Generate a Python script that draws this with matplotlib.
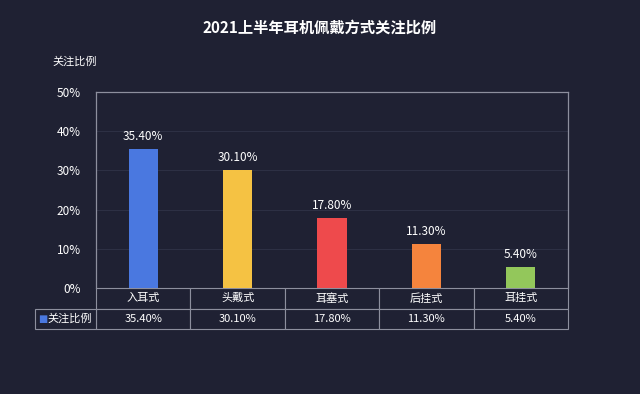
import matplotlib
matplotlib.use("Agg")
from matplotlib import pyplot as plt
from matplotlib.patches import Rectangle

plt.rcParams['font.family'] = ['Noto Sans CJK SC', 'DejaVu Sans']

categories = ["入耳式", "头戴式", "耳塞式", "后挂式", "耳挂式"]
values = [35.4, 30.1, 17.8, 11.3, 5.4]
bar_colors = ["#4a78e0", "#f5c243", "#ee4a4c", "#f5843d", "#93c75b"]
series_name = "关注比例"
y_ticks = [0, 10, 20, 30, 40, 50]

bg = "#1f2133"
edge = "#8d8f9e"
W, H = 640, 394

fig = plt.figure(figsize=(W / 100, H / 100), dpi=100, facecolor=bg)
ax = fig.add_axes([96 / W, (H - 288) / H, 472 / W, 196 / H])
ax.set_facecolor(bg)

x = list(range(len(categories)))
ax.bar(x, values, width=0.31, color=bar_colors, zorder=3)
for xi, v in zip(x, values):
    ax.text(xi, v + 1.5, f"{v:.2f}%", ha="center", va="bottom", color="white", fontsize=8.5)

ax.set_xlim(-0.5, len(categories) - 0.5)
ax.set_ylim(0, 50)
ax.set_yticks(y_ticks)
ax.set_yticklabels([f"{t}%" for t in y_ticks], color="white", fontsize=8.5)
ax.tick_params(axis="y", length=0, pad=11)
ax.set_xticks([])
ax.grid(axis="y", color="#2d3044", linewidth=0.8, zorder=0)
for side in ["top", "right", "left"]:
    ax.spines[side].set_color(edge)
    ax.spines[side].set_linewidth(0.9)
ax.spines["bottom"].set_visible(False)

# data table under the bars
row_h = 20.5 / 196
tbl = ax.table(cellText=[[f"{v:.2f}%" for v in values]], colLabels=categories,
               cellLoc="center", bbox=[0, -2 * row_h, 1, 2 * row_h])
tbl.auto_set_font_size(False)
for (r, c), cell in tbl.get_celld().items():
    cell.set_facecolor(bg)
    cell.set_edgecolor(edge)
    cell.set_linewidth(0.8)
    cell.get_text().set_color("white")
    cell.get_text().set_fontsize(8)

# legend cell on the left of the value row
ax.add_patch(Rectangle((-61 / 472, -2 * row_h), 61 / 472, row_h, transform=ax.transAxes,
                       facecolor=bg, edgecolor=edge, linewidth=0.8, clip_on=False))
ax.text(-0.122, -1.5 * row_h, "■", color="#4a78e0", fontsize=7, ha="left", va="center",
        transform=ax.transAxes, family=["DejaVu Sans"])
ax.text(-0.103, -1.5 * row_h, series_name, color="white", fontsize=8, ha="left", va="center",
        transform=ax.transAxes)

fig.text(0.5, 1 - 28 / H, "2021上半年耳机佩戴方式关注比例", color="white", fontsize=11,
         fontweight="bold", ha="center", va="center")
fig.text(75 / W, 1 - 62 / H, series_name, color="white", fontsize=8, ha="center", va="center")

fig.savefig("out.png", dpi=100, facecolor=bg)
